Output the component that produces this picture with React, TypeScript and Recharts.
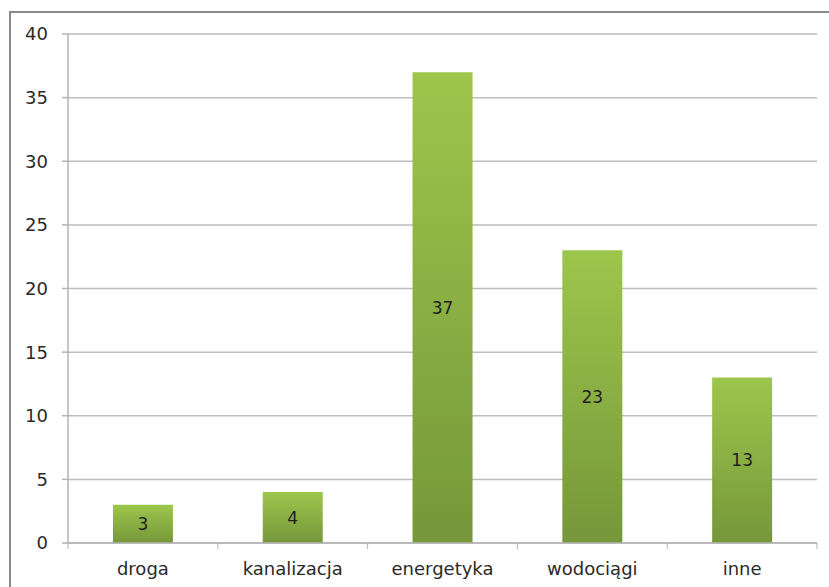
import React from 'react';
import { BarChart, Bar, XAxis, YAxis, CartesianGrid, LabelList } from 'recharts';

const categories = ['droga', 'kanalizacja', 'energetyka', 'wodociągi', 'inne'];
const values = [3, 4, 37, 23, 13];
const yTicks = [0, 5, 10, 15, 20, 25, 30, 35, 40];

const data = categories.map((c, i) => ({ name: c, value: values[i] }));

const W = 829;
const H = 587;
const MARGIN = { top: 34, right: 12, bottom: 14, left: 0 };
const Y_AXIS_W = 68;
const BAND = (W - MARGIN.left - MARGIN.right - Y_AXIS_W) / categories.length;
const FONT = '"DejaVu Sans", "Open Sans", sans-serif';

const XTick = (props: any) => {
  const { x, y, payload, index } = props;
  const half = BAND / 2;
  return (
    <g>
      <line x1={x - half} y1={y - 8} x2={x - half} y2={y - 2} stroke="#b3b3b3" strokeWidth={1} />
      {index === categories.length - 1 && (
        <line x1={x + half} y1={y - 8} x2={x + half} y2={y - 2} stroke="#b3b3b3" strokeWidth={1} />
      )}
      <text x={x} y={y + 24} textAnchor="middle" fill="#2a2a2a" fontSize={18} fontFamily={FONT}>
        {payload.value}
      </text>
    </g>
  );
};

export default function App() {
  return (
    <div style={{ position: 'absolute', left: 0, top: 0, width: W, height: H, overflow: 'hidden', background: '#fff' }}>
      <div
        style={{
          position: 'absolute',
          left: 9,
          top: 11,
          width: W + 20,
          height: H + 20,
          border: '2px solid #8a8a8a',
          boxSizing: 'border-box',
        }}
      />
      <div style={{ position: 'absolute', left: 0, top: 0 }}>
        <BarChart width={W} height={H} data={data} margin={MARGIN} barCategoryGap="30%">
          <defs>
            <linearGradient id="barGrad" x1="0" y1="0" x2="0" y2="1">
              <stop offset="0%" stopColor="#9dc64c" />
              <stop offset="100%" stopColor="#76973a" />
            </linearGradient>
          </defs>
          <CartesianGrid vertical={false} stroke="#bdbdbd" strokeWidth={1.5} />
          <XAxis
            dataKey="name"
            height={30}
            axisLine={{ stroke: '#b3b3b3', strokeWidth: 1.5 }}
            tickLine={false}
            tick={<XTick />}
            interval={0}
          />
          <YAxis
            width={Y_AXIS_W}
            domain={[0, 40]}
            ticks={yTicks}
            interval={0}
            axisLine={{ stroke: '#b3b3b3', strokeWidth: 1.5 }}
            tickLine={{ stroke: '#b3b3b3', strokeWidth: 1.5 }}
            tickSize={6}
            tickMargin={14}
            tick={{ fill: '#2a2a2a', fontSize: 18, fontFamily: FONT }}
          />
          <Bar dataKey="value" fill="url(#barGrad)" isAnimationActive={false}>
            <LabelList dataKey="value" position="center" fill="#1f1f1f" fontSize={17} fontFamily={FONT} />
          </Bar>
        </BarChart>
      </div>
    </div>
  );
}
